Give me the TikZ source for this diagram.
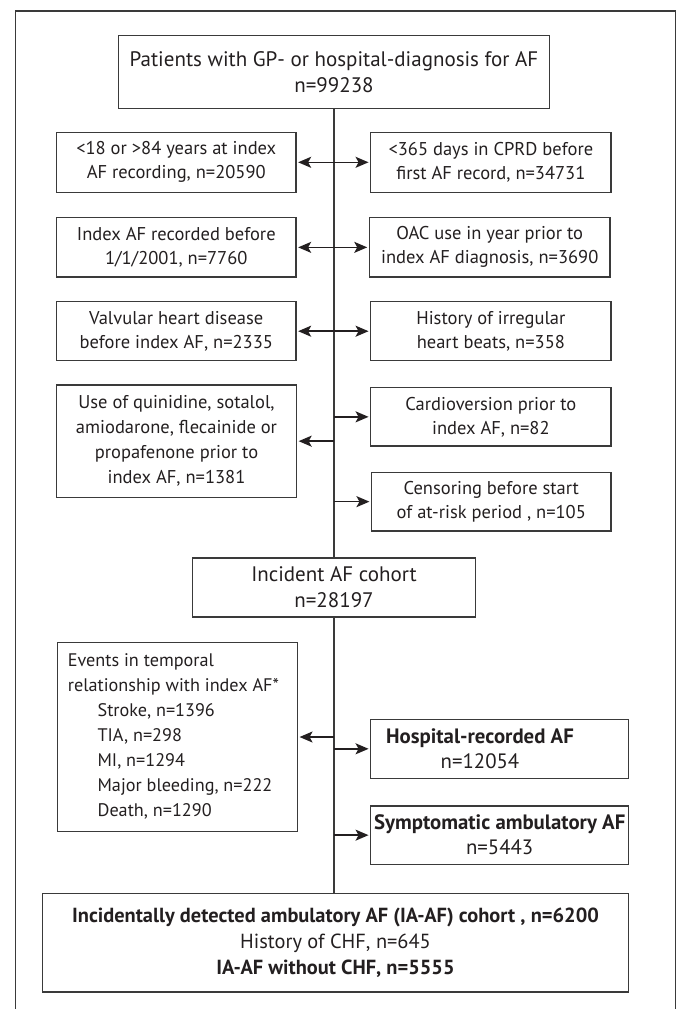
\documentclass[tikz,border=0pt]{standalone}
\usepackage{fontspec}
\setmainfont{PT Sans}
\usetikzlibrary{arrows.meta}
\definecolor{ink}{HTML}{231F20}
\definecolor{edge}{HTML}{3A3A3A}
\begin{document}
\begin{tikzpicture}[x=1pt,y=-1pt,
  box/.style={draw=edge, line width=1.3pt, inner sep=0pt, align=center, text=ink,
              font=\fontsize{18.5}{24}\selectfont},
  big/.style={font=\fontsize{21}{26}\selectfont},
  txt/.style={inner sep=0pt, align=center, text=ink, font=\fontsize{20.8}{25}\selectfont},
  arr/.style={draw=ink, line width=1.6pt, -{Stealth[length=13pt,width=11pt,inset=3pt]}, shorten >=1.5pt},
  darr/.style={draw=ink, line width=1.6pt, {Stealth[length=13pt,width=11pt,inset=3pt]}-{Stealth[length=13pt,width=11pt,inset=3pt]}, shorten >=1.5pt, shorten <=1.5pt},
  ln/.style={draw=edge, line width=1.3pt}]
\useasboundingbox (0,0) rectangle (676,1009);
\draw[ln] (15.5,1015) -- (15.5,11) -- (675.3,11) -- (675.3,1015);

\node[box, big, minimum width=431.3pt, minimum height=72.6pt] (top) at (334,72)
  {Patients with GP- or hospital-diagnosis for AF\\n=99238};

\node[box, minimum width=239.5pt, minimum height=60pt] (l1) at (176.25,162.3)
  {<18 or >84 years at index\\AF recording, n=20590};
\node[box, minimum width=240.3pt, minimum height=60pt] (r1) at (490.85,162.3)
  {<365 days in CPRD before\\first AF record, n=34731};

\node[box, minimum width=239.5pt, minimum height=59.3pt] (l2) at (176.25,247.35)
  {Index AF recorded before\\1/1/2001, n=7760};
\node[box, minimum width=240.6pt, minimum height=59.3pt] (r2) at (489.7,247.35)
  {OAC use in year prior to\\index AF diagnosis, n=3690};

\node[box, minimum width=239.5pt, minimum height=59pt] (l3) at (176.25,331.2)
  {Valvular heart disease\\before index AF, n=2335};
\node[box, minimum width=240.3pt, minimum height=59pt] (r3) at (490.85,331.2)
  {History of irregular\\heart beats, n=358};

\node[box, minimum width=240pt, minimum height=112.3pt, font=\fontsize{18.5}{25}\selectfont] (l4) at (176.5,441.15)
  {Use of quinidine, sotalol,\\amiodarone, flecainide or\\propafenone prior to\\index AF, n=1381};
\node[box, minimum width=240.3pt, minimum height=58.3pt] (r4) at (490.85,416.85)
  {Cardioversion prior to\\index AF, n=82};
\node[box, minimum width=239.4pt, minimum height=58.7pt] (r5) at (491.3,501.65)
  {Censoring before start\\of at-risk period , n=105};

\node[box, big, minimum width=283pt, minimum height=59pt] (inc) at (334,587.5)
  {Incident AF cohort\\n=28197};

\node[box, minimum width=239.6pt, minimum height=189.4pt] (ev) at (177.6,737) {};
\node[txt, anchor=west, align=left, font=\fontsize{18.2}{25}\selectfont] (evt) at (67.7,736)
  {Events in temporal\\relationship with index AF*\\
   \hspace*{29.7pt}Stroke, n=1396\\
   \hspace*{29.7pt}TIA, n=298\\
   \hspace*{29.7pt}MI, n=1294\\
   \hspace*{29.7pt}Major bleeding, n=222\\
   \hspace*{29.7pt}Death, n=1290};

\node[box, minimum width=258pt, minimum height=59pt] (hosp) at (499.7,748.8) {};
\node[txt] (hospt) at (480,748.8) {\textbf{Hospital-recorded AF}\\n=12054};

\node[box, minimum width=258pt, minimum height=58.3pt, font=\fontsize{20.8}{25}\selectfont] (symp) at (499.7,835.15)
  {\textbf{Symptomatic ambulatory AF}\\n=5443};

\node[box, minimum width=586.4pt, minimum height=98.7pt, font=\fontsize{20.4}{26}\selectfont] (ia) at (335.5,942.65)
  {\textbf{Incidentally detected ambulatory AF (IA-AF) cohort , n=6200}\\History of CHF, n=645\\\textbf{IA-AF without CHF, n=5555}};

% main spine
\draw[ln] (top.south) -- (inc.north);
\draw[ln] (inc.south) -- (inc.south |- ia.north);

% exclusions
\draw[darr] (l1.east) -- (r1.west);
\draw[darr] (l2.east) -- (r2.west);
\draw[darr] (l3.east) -- (r3.west);
\draw[arr] (top.south |- r4.west) -- (r4.west);
\draw[arr] (top.south |- l4.east) -- (l4.east);
\draw[arr] (top.south |- r5.west) -- (r5.west);
\draw[arr] (inc.south |- ev.east) -- (ev.east);
\draw[arr] (inc.south |- hosp.west) -- (hosp.west);
\draw[arr] (inc.south |- symp.west) -- (symp.west);
\end{tikzpicture}
\end{document}
